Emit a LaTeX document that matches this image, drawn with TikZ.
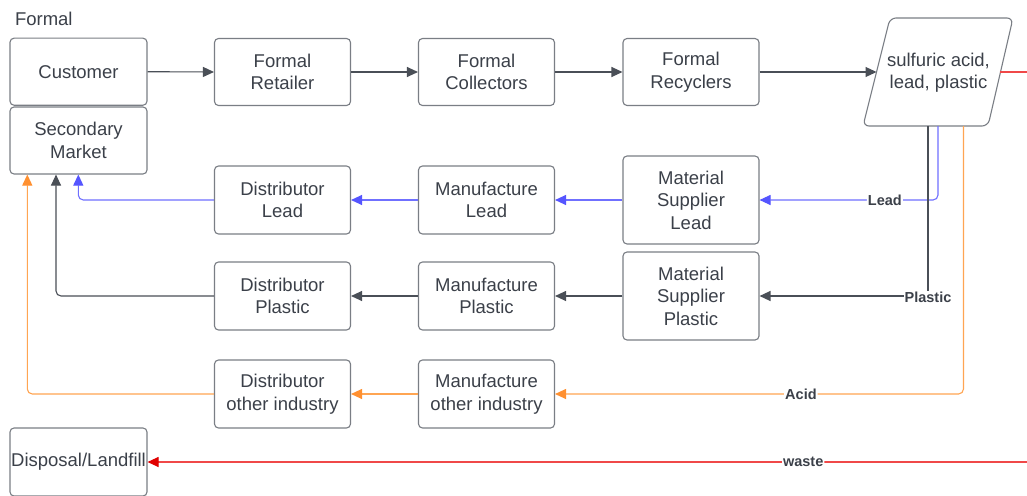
\documentclass[tikz,border=0pt]{standalone}
\usepackage{fontspec}
\setmainfont{Liberation Sans}
\usetikzlibrary{arrows.meta}
\definecolor{txt}{HTML}{3B4049}
\definecolor{boxc}{HTML}{7A7E85}
\definecolor{dk}{HTML}{4A4F57}
\definecolor{bl}{HTML}{7070FF}
\definecolor{blh}{HTML}{5555FF}
\definecolor{orl}{HTML}{FFA552}
\definecolor{orh}{HTML}{FF9030}
\definecolor{rdl}{HTML}{F04848}
\definecolor{rdh}{HTML}{E00000}
\tikzset{
  box/.style={draw=boxc, line width=1.1pt, rounded corners=4pt, minimum width=137pt,
    minimum height=67pt, inner sep=0pt, align=center, text=txt,
    font=\fontsize{18.5}{22.5}\selectfont},
  tall/.style={box, minimum height=88pt},
  con/.style={line width=1.1pt, rounded corners=5pt},
  tipd/.style={-{Triangle[length=11pt,width=10pt]}},
  lbl/.style={font=\bfseries\fontsize{14.5}{16}\selectfont, text=txt, fill=white, inner sep=1pt},
}
\begin{document}
\begin{tikzpicture}[x=1pt,y=-1pt]
\clip (0,0) rectangle (1027,495);
\fill[white] (0,0) rectangle (1027,495);
\node[anchor=west, text=txt, font=\fontsize{18.5}{22}\selectfont] (formal) at (11.5,19) {Formal};
% top row
\node[box] (cust) at (78.5,71.7) {Customer};
\node[box] (sec) at (78.5,140.5) {Secondary\\Market};
\node[box, minimum width=136pt] (ret) at (282.5,72) {Formal\\Retailer};
\node[box, minimum width=136pt] (col) at (486.5,72) {Formal\\Collectors};
\node[box, minimum width=136pt] (rec) at (691,72) {Formal\\Recyclers};
% parallelogram
\draw[draw=boxc, line width=1.1pt, rounded corners=6pt] (890,18) -- (1013,18) -- (988,126) -- (863,126) -- cycle;
\node[text=txt, align=center, font=\fontsize{18.5}{22}\selectfont] (sulf) at (938.5,73) {sulfuric acid,\\lead, plastic};
\coordinate (pin) at (876.5,72);
\coordinate (pout) at (999.5,72);
\coordinate (pdk) at (928,126);
\coordinate (pbl) at (938,126);
\coordinate (por) at (963.5,126);
\coordinate (redend) at (1030,72);
\coordinate (wastestart) at (1030,462);
% lead row
\node[box, minimum height=68pt, minimum width=136pt] (dlead) at (282.5,200) {Distributor\\Lead};
\node[box, minimum height=68pt, minimum width=136pt] (mlead) at (486.5,200) {Manufacture\\Lead};
\node[tall, minimum width=136pt] (slead) at (691,200) {Material\\Supplier\\Lead};
% plastic row
\node[box, minimum height=68pt, minimum width=136pt] (dplas) at (282.5,296) {Distributor\\Plastic};
\node[box, minimum height=68pt, minimum width=136pt] (mplas) at (486.5,296) {Manufacture\\Plastic};
\node[tall, minimum width=136pt] (splas) at (691,296) {Material\\Supplier\\Plastic};
% other row
\node[box, minimum height=68pt, minimum width=136pt] (doth) at (282.5,394) {Distributor\\other industry};
\node[box, minimum height=68pt, minimum width=136pt] (moth) at (486.5,394) {Manufacture\\other industry};
% disposal
\node[box, minimum height=68pt] (disp) at (78.5,462) {Disposal/Landfill};
% top connectors
\draw[con, dk, tipd] (cust.east) -- (ret.west);
\draw[con, dk, tipd] (ret.east) -- (col.west);
\draw[con, dk, tipd] (col.east) -- (rec.west);
\draw[con, dk, tipd] (rec.east) -- (pin);
\draw[con, rdl] (pout) -- (redend);
% from recycled outputs
\draw[con, bl, -{Triangle[length=11pt,width=10pt,color=blh]}] (pbl) |- (slead.east) node[lbl, pos=0.649] (llead) {Lead};
\draw[con, dk, line width=1.4pt, tipd, rounded corners=0pt] (pdk) |- (splas.east) node[lbl, pos=0.5, yshift=-1.5pt] (lplas) {Plastic};
\draw[con, orl, -{Triangle[length=11pt,width=10pt,color=orh]}] (por) |- (moth.east) node[lbl, pos=0.699] (lacid) {Acid};
% lead chain
\draw[con, bl, -{Triangle[length=11pt,width=10pt,color=blh]}] (slead.west) -- (mlead.east);
\draw[con, bl, -{Triangle[length=11pt,width=10pt,color=blh]}] (mlead.west) -- (dlead.east);
\draw[con, bl, -{Triangle[length=11pt,width=10pt,color=blh]}] (dlead.west) -| ([xshift=-0.2pt]sec.south);
% plastic chain
\draw[con, dk, tipd] (splas.west) -- (mplas.east);
\draw[con, dk, tipd] (mplas.west) -- (dplas.east);
\draw[con, dk, tipd] (dplas.west) -| ([xshift=-22.5pt]sec.south);
% other chain
\draw[con, orl, -{Triangle[length=11pt,width=10pt,color=orh]}] (moth.west) -- (doth.east);
\draw[con, orl, -{Triangle[length=11pt,width=10pt,color=orh]}] (doth.west) -| ([xshift=-51.2pt]sec.south);
% waste
\draw[con, rdl, -{Triangle[length=11pt,width=10pt,color=rdh]}] (wastestart) -- (disp.east) node[lbl, pos=0.257] (lwaste) {waste};
\end{tikzpicture}
\end{document}
